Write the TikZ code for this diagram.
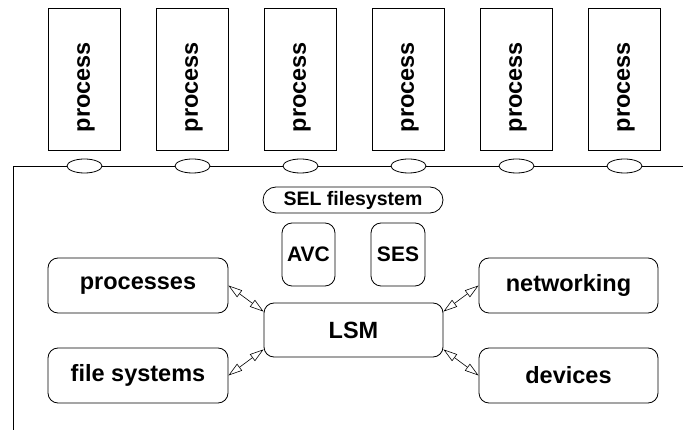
\documentclass[tikz,border=0pt]{standalone}
\usepackage{fontspec}
\setmainfont{Liberation Sans}
\usetikzlibrary{arrows.meta,shapes.geometric}
\begin{document}
\begin{tikzpicture}[x=1pt,y=-1pt,line width=0.8pt,
  procbox/.style={draw,rectangle,minimum width=72pt,minimum height=142pt,inner sep=0pt},
  proctext/.style={rotate=90,font=\fontsize{23.5}{28}\selectfont\bfseries},
  port/.style={draw,ellipse,fill=white,minimum width=35pt,minimum height=14pt,inner sep=0pt},
  rbox/.style={draw,rectangle,rounded corners=10pt,inner sep=0pt,font=\fontsize{23.5}{28}\selectfont\bfseries},
  sbox/.style={draw,rectangle,rounded corners=10pt,inner sep=0pt,font=\fontsize{21}{25}\selectfont\bfseries},
  dbl/.style={{Triangle[open,length=14pt,width=8.5pt]}-{Triangle[open,length=14pt,width=8.5pt]},line width=0.6pt}]
\useasboundingbox (0,0) rectangle (683,435);
% process boxes
\foreach \i in {0,...,5}{
  \node[procbox] (p\i) at (84.5+108*\i,79) {};
  \node[proctext] (pt\i) at ([xshift=1.5pt,yshift=-8pt]p\i.center) {process};
}
% bus line
\coordinate (busL) at (13,166);
\coordinate (busR) at (683,166);
\coordinate (busB) at (13,430);
\draw (busB) -- (busL) -- (busR);
\foreach \i in {0,...,5}{
  \node[port] (e\i) at (84.5+108*\i,166) {};
}
% SEL filesystem
\node[draw,rectangle,rounded corners=13pt,minimum width=180pt,minimum height=26pt,inner sep=0pt,
  font=\fontsize{19.5}{23}\selectfont\bfseries] (sel) at (353,200) {SEL filesystem};
\node[sbox,minimum width=53pt,minimum height=63pt] (avc) at (308.5,254.5) {AVC};
\node[sbox,minimum width=54pt,minimum height=63pt] (ses) at (398,254.5) {SES};
% boxes
\node[rbox,minimum width=180pt,minimum height=55pt] (procs) at (138,285.5) {processes};
\node[rbox,minimum width=180pt,minimum height=55pt] (fs) at (138,375.5) {file systems};
\node[rbox,minimum width=179pt,minimum height=55pt] (net) at (568.5,285.5) {networking};
\node[rbox,minimum width=179pt,minimum height=55pt] (dev) at (568.5,375.5) {devices};
\node[rbox,minimum width=179pt,minimum height=54pt] (lsm) at (353.5,330) {LSM};
% connectors
\draw[dbl] (procs.east) -- ([yshift=-9pt]lsm.north west);
\draw[dbl] (fs.east) -- ([yshift=8pt]lsm.south west);
\draw[dbl] (net.west) -- ([yshift=-9pt]lsm.north east);
\draw[dbl] (dev.west) -- ([yshift=8pt]lsm.south east);
\end{tikzpicture}
\end{document}
